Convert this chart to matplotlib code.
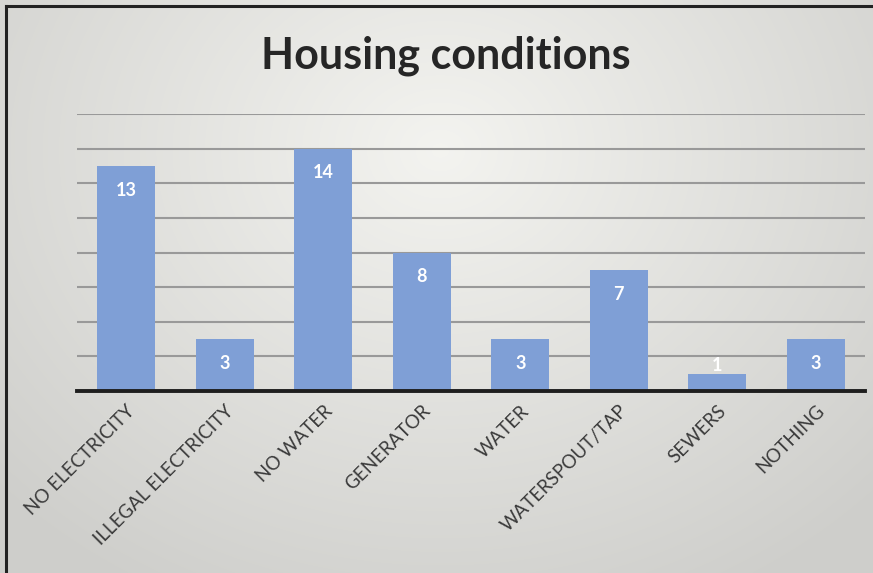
import numpy as np
import matplotlib.pyplot as plt
from matplotlib.lines import Line2D

categories = ['NO ELECTRICITY', 'ILLEGAL ELECTRICITY', 'NO WATER', 'GENERATOR',
              'WATER', 'WATERSPOUT/TAP', 'SEWERS', 'NOTHING']
counts = [13, 3, 14, 8, 3, 7, 1, 3]

plt.rcParams['font.family'] = ['Lato', 'DejaVu Sans']

fig = plt.figure(figsize=(8.73, 5.73), dpi=100)

# Soft radial gray background behind everything
bg = fig.add_axes([0, 0, 1, 1], zorder=-10)
yy, xx = np.mgrid[0:573, 0:873]
r = np.sqrt(((xx - 440) / 620.0) ** 2 + ((yy - 150) / 520.0) ** 2)
shade = np.clip(0.955 - 0.15 * r, 0.81, 0.955)
img = np.dstack([shade, shade, shade * 0.985])
bg.imshow(img, aspect='auto', extent=[0, 1, 0, 1], origin='upper')
bg.axis('off')

# Frame lines on top and left edge
fig.add_artist(Line2D([6 / 873, 1], [1 - 6 / 573, 1 - 6 / 573], color='#222222', lw=2.2))
fig.add_artist(Line2D([6 / 873, 6 / 873], [0, 1 - 6 / 573], color='#222222', lw=2.2))

ax = fig.add_axes([77 / 873, 1 - 391 / 573, (865 - 77) / 873, (391 - 114) / 573])
ax.patch.set_alpha(0)

x = np.arange(len(categories))
ax.bar(x, counts, width=0.59, color='#7F9FD6', zorder=3)

for xi, v in zip(x, counts):
    ax.text(xi, max(v - 1.4, 1.5), str(v), ha='center', va='center',
            color='white', fontsize=13, fontweight='bold', zorder=4)

ax.set_xlim(-0.5, len(categories) - 0.5)
ax.set_ylim(0, 16)
ax.set_yticks(range(2, 17, 2))
ax.yaxis.grid(True, color='#999999', lw=1.5, zorder=0)
ax.tick_params(axis='y', left=False, labelleft=False)
ax.tick_params(axis='x', length=0, pad=8)
ax.set_xticks(x)
ax.set_xticklabels(categories, rotation=45, ha='right', va='top',
                   rotation_mode='anchor', fontsize=13.5, color='#3A3A3A')

for side in ['top', 'right', 'left']:
    ax.spines[side].set_visible(False)
ax.spines['bottom'].set_color('#1E1E1E')
ax.spines['bottom'].set_linewidth(2.8)
ax.spines['bottom'].set_zorder(5)

fig.text(446 / 873, 1 - 56 / 573, 'Housing conditions', ha='center', va='center',
         fontsize=31, fontweight='bold', color='#262626')

fig.savefig('out.png', dpi=100)
